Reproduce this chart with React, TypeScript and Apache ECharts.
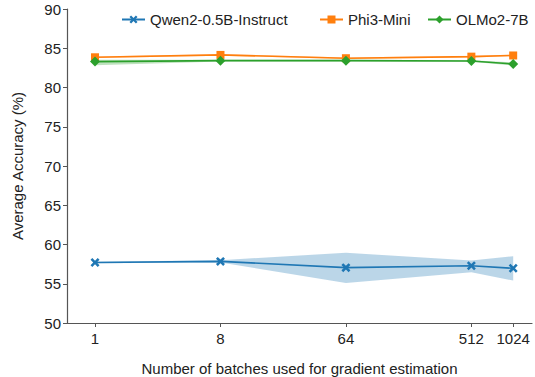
import React, { useEffect, useRef } from "react";
import * as echarts from "echarts";

const batches = [1, 8, 64, 512, 1024];
const seriesNames = ["Qwen2-0.5B-Instruct", "Phi3-Mini", "OLMo2-7B"];
const qwenMean = [57.7, 57.85, 57.05, 57.3, 56.97];
const qwenLow = [57.6, 57.7, 55.1, 56.45, 55.4];
const qwenHigh = [57.8, 58.0, 58.95, 57.95, 58.5];
const phiMean = [83.85, 84.15, 83.73, 83.93, 84.08];
const phiLow = [83.75, 84.05, 83.63, 83.83, 83.98];
const phiHigh = [83.95, 84.25, 83.83, 84.03, 84.18];
const olmoMean = [83.3, 83.42, 83.42, 83.38, 83.0];
const olmoLow = [82.85, 83.32, 83.32, 83.28, 82.8];
const olmoHigh = [83.55, 83.52, 83.52, 83.48, 83.2];
const yTicks = [50, 55, 60, 65, 70, 75, 80, 85, 90];

const colors = ["#1f77b4", "#ff7f0e", "#2ca02c"];
const FONT = "Liberation Sans";
const XMARK = "path://M2,0 L5,3 L8,0 L10,2 L7,5 L10,8 L8,10 L5,7 L2,10 L0,8 L3,5 L0,2 Z";

export default function App() {
  const ref = useRef<HTMLDivElement>(null);
  useEffect(() => {
    if (!ref.current) return;
    const chart = echarts.init(ref.current, undefined, { renderer: "svg" });
    const xs = batches.map((b) => Math.log2(b));
    const band = (low: number[], high: number[], color: string) => ({
      type: "custom",
      silent: true,
      z: 1,
      data: [[xs[0], low[0]]],
      renderItem: (_params: any, api: any) => {
        const pts: number[][] = [];
        xs.forEach((x, i) => pts.push(api.coord([x, high[i]])));
        for (let i = xs.length - 1; i >= 0; i--) pts.push(api.coord([xs[i], low[i]]));
        return {
          type: "polygon",
          shape: { points: pts },
          style: { fill: color, opacity: 0.3 },
        };
      },
    });
    const line = (name: string, vals: number[], color: string, symbol: string, size: number) => ({
      type: "line",
      name,
      z: 3,
      data: xs.map((x, i) => [x, vals[i]]),
      symbol,
      symbolSize: size,
      showAllSymbol: true,
      lineStyle: { color, width: 1.6 },
      itemStyle: { color, borderWidth: 0 },
    });
    const legendBase = {
      top: 12,
      itemWidth: 23,
      itemHeight: 10,
      itemGap: 0,
      padding: 0,
      textStyle: { fontFamily: FONT, fontSize: 15, color: "#222" },
    };
    chart.setOption({
      animation: false,
      backgroundColor: "#fff",
      textStyle: { fontFamily: FONT, fontSize: 15 },
      grid: { left: 67, right: 3, top: 9, bottom: 54, containLabel: false, outerBoundsMode: "none" },
      legend: [
        { ...legendBase, left: 121, data: [seriesNames[0]] },
        { ...legendBase, left: 319, data: [seriesNames[1]] },
        { ...legendBase, left: 427, data: [seriesNames[2]] },
      ],
      xAxis: {
        type: "value",
        min: -0.67,
        max: 10.45,
        name: "Number of batches used for gradient estimation",
        nameLocation: "middle",
        nameGap: 38,
        nameTextStyle: { fontFamily: FONT, fontSize: 15, color: "#222" },
        axisLine: { show: true, onZero: false, lineStyle: { color: "#555", width: 1.2 } },
        axisTick: { show: true, length: 4, lineStyle: { color: "#555" }, customValues: xs },
        axisLabel: {
          fontFamily: FONT,
          fontSize: 15,
          color: "#222",
          margin: 8,
          customValues: xs,
          formatter: (v: number) => String(Math.round(Math.pow(2, v))),
        },
        splitLine: { show: false },
      },
      yAxis: {
        type: "value",
        min: 50,
        max: 90,
        interval: 5,
        name: "Average Accuracy (%)",
        nameLocation: "middle",
        nameGap: 42,
        nameTextStyle: { fontFamily: FONT, fontSize: 15, color: "#222" },
        axisLine: { show: true, onZero: false, lineStyle: { color: "#555", width: 1.2 } },
        axisTick: { show: true, length: 4, lineStyle: { color: "#555" } },
        axisLabel: { fontFamily: FONT, fontSize: 15, color: "#222", margin: 6, customValues: yTicks },
        splitLine: { show: false },
      },
      series: [
        band(qwenLow, qwenHigh, colors[0]),
        band(phiLow, phiHigh, colors[1]),
        band(olmoLow, olmoHigh, colors[2]),
        line(seriesNames[0], qwenMean, colors[0], XMARK, 9),
        line(seriesNames[1], phiMean, colors[1], "rect", 8),
        line(seriesNames[2], olmoMean, colors[2], "diamond", 10),
      ],
    });
    return () => chart.dispose();
  }, []);
  return <div ref={ref} style={{ width: 535, height: 377, position: "absolute", left: 0, top: 0 }} />;
}
